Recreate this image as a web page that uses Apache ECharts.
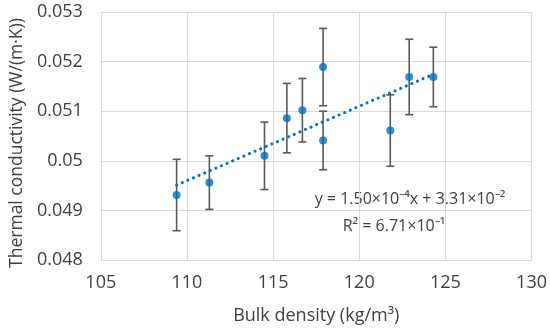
<!DOCTYPE html>
<html>
<head>
<meta charset="utf-8">
<script src="https://cdn.jsdelivr.net/npm/echarts@6/dist/echarts.min.js"></script>
<style>html,body{margin:0;padding:0;background:#fff}#c{width:550px;height:332px}</style>
</head>
<body>
<div id="c"></div>
<script>
var densities = [109.4, 111.3, 114.5, 115.8, 116.7, 117.9, 117.9, 121.8, 122.9, 124.3];
var conductivity = [0.04931, 0.04956, 0.05010, 0.05086, 0.05102, 0.05189, 0.05041, 0.05061, 0.05169, 0.05169];
var errors = [0.00072, 0.00054, 0.00068, 0.00070, 0.00064, 0.00078, 0.00059, 0.00072, 0.00076, 0.00060];
var trendSlope = 1.50e-4;
var trendIntercept = 3.31e-2;
var equationLine1 = 'y = 1.50×10⁻⁴x + 3.31×10⁻²';
var equationLine2 = 'R² = 6.71×10⁻¹';
var xTitle = 'Bulk density (kg/m³)';
var yTitle = 'Thermal conductivity (W/(m·K))';

var points = densities.map(function (d, i) { return [d, conductivity[i]]; });
var bars = densities.map(function (d, i) { return [d, conductivity[i] - errors[i], conductivity[i] + errors[i]]; });
var xMin = Math.min.apply(null, densities), xMax = Math.max.apply(null, densities);
var trend = [[xMin, trendSlope * xMin + trendIntercept], [xMax, trendSlope * xMax + trendIntercept]];

var FONT = 'Open Sans';
var chart = echarts.init(document.getElementById('c'));
chart.setOption({
  animation: false,
  grid: { left: 98, right: 18, top: 12, bottom: 72 },
  xAxis: {
    type: 'value', min: 105, max: 130, interval: 5,
    axisLine: { show: false }, axisTick: { show: false },
    splitLine: { show: true, lineStyle: { color: '#d9d9d9', width: 1 } },
    axisLabel: { color: '#404040', fontFamily: FONT, fontSize: 18, margin: 14 },
    name: xTitle, nameLocation: 'middle', nameGap: 47,
    nameTextStyle: { color: '#404040', fontFamily: FONT, fontSize: 18 }
  },
  yAxis: {
    type: 'value', min: 0.048, max: 0.053, interval: 0.001,
    axisLine: { show: false }, axisTick: { show: false },
    splitLine: { show: true, lineStyle: { color: '#d9d9d9', width: 1 } },
    axisLabel: { color: '#404040', fontFamily: FONT, fontSize: 18, margin: 18,
      formatter: function (v) { return String(+v.toFixed(3)); } },
    name: yTitle, nameLocation: 'middle', nameGap: 70,
    nameTextStyle: { color: '#404040', fontFamily: FONT, fontSize: 17.5, padding: [0, 14, 0, 0] }
  },
  graphic: [{
    type: 'group', z: 100,
    children: [
      { type: 'rect', shape: { x: 267, y: 177, width: 256, height: 71 }, style: { fill: '#ffffff' } },
      { type: 'text', x: 410, y: 199, style: { text: equationLine1, fill: '#404040', font: '16px "Open Sans"', align: 'center', verticalAlign: 'middle' } },
      { type: 'text', x: 394, y: 226, style: { text: equationLine2, fill: '#404040', font: '16px "Open Sans"', align: 'center', verticalAlign: 'middle' } }
    ]
  }],
  series: [
    {
      type: 'line', data: trend, symbol: 'none', z: 2,
      lineStyle: { color: '#0070C0', width: 3, type: [0.1, 6], cap: 'round' }
    },
    {
      type: 'custom', data: bars, z: 3,
      renderItem: function (params, api) {
        var x = api.value(0);
        var lo = api.coord([x, api.value(1)]);
        var hi = api.coord([x, api.value(2)]);
        var w = 4;
        var st = { stroke: '#595959', lineWidth: 1.6 };
        return { type: 'group', children: [
          { type: 'line', shape: { x1: lo[0], y1: lo[1], x2: hi[0], y2: hi[1] }, style: st },
          { type: 'line', shape: { x1: lo[0] - w, y1: lo[1], x2: lo[0] + w, y2: lo[1] }, style: st },
          { type: 'line', shape: { x1: hi[0] - w, y1: hi[1], x2: hi[0] + w, y2: hi[1] }, style: st }
        ] };
      }
    },
    {
      type: 'scatter', data: points, symbolSize: 8, z: 4,
      itemStyle: { color: '#0070C0' }
    }
  ]
});
</script>
</body>
</html>
